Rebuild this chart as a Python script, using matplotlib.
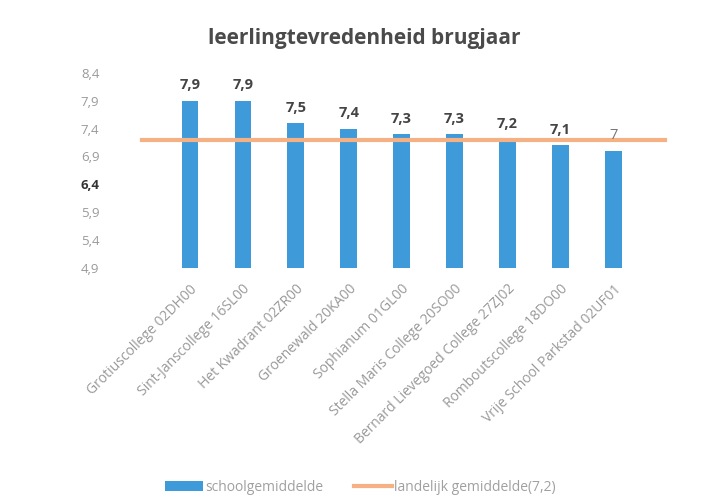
import matplotlib
matplotlib.use("Agg")
import matplotlib.pyplot as plt
from matplotlib.patches import Patch
from matplotlib.lines import Line2D

schools = ["Grotiuscollege 02DH00", "Sint-Janscollege 16SL00", "Het Kwadrant 02ZR00",
           "Groenewald 20KA00", "Sophianum 01GL00", "Stella Maris College 20SO00",
           "Bernard Lievegoed College 27ZJ02", "Romboutscollege 18DO00",
           "Vrije School Parkstad 02UF01"]
scores = [7.9, 7.9, 7.5, 7.4, 7.3, 7.3, 7.2, 7.1, 7.0]
score_labels = ["7,9", "7,9", "7,5", "7,4", "7,3", "7,3", "7,2", "7,1", "7"]
national = 7.2
yticks = [4.9, 5.4, 5.9, 6.4, 6.9, 7.4, 7.9, 8.4]
ytick_labels = ["4,9", "5,4", "5,9", "6,4", "6,9", "7,4", "7,9", "8,4"]

plt.rcParams['font.family'] = ['Open Sans', 'DejaVu Sans']

fig = plt.figure(figsize=(7.07, 4.96), dpi=100)
ax = fig.add_axes([0.231, 0.460, 0.674, 0.393])

blue = "#3f9ad9"
orange = "#f5b184"
x = list(range(len(schools)))
ax.bar(x, [s - yticks[0] for s in scores], bottom=yticks[0], width=0.31, color=blue, zorder=2)
ax.axhline(national, xmin=-0.045, xmax=1.052, color=orange, lw=3, clip_on=False, zorder=3)

for i, (s, lab) in enumerate(zip(scores, score_labels)):
    last = i == len(scores) - 1
    ax.annotate(lab, (i, s), xytext=(0, 6), textcoords="offset points", ha="center",
                va="bottom", fontsize=10.5, fontweight="normal" if last else "bold",
                color="#777777" if last else "#444444")

ax.set_xlim(-0.5, len(schools) - 0.5)
ax.set_ylim(yticks[0], yticks[-1])
ax.set_yticks(yticks)
ax.set_yticklabels(ytick_labels)
for t in ax.get_yticklabels():
    if t.get_text() == "6,4":
        t.set_color("#333333"); t.set_fontweight("bold")
    else:
        t.set_color("#9a9a9a")
ax.tick_params(axis="y", length=0, pad=46, labelsize=9.5)
ax.set_xticks(x)
ax.set_xticklabels(schools, rotation=45, ha="right", rotation_mode="anchor",
                   fontsize=10, color="#999999")
ax.tick_params(axis="x", length=0, pad=10)
for sp in ax.spines.values():
    sp.set_visible(False)

fig.text(0.515, 0.923, "leerlingtevredenheid brugjaar", ha="center", va="center",
         fontsize=15, fontweight="bold", color="#4a4a4a")

handles = [Patch(facecolor=blue, edgecolor="none"), Line2D([], [], color=orange, lw=3)]
fig.legend(handles, ["schoolgemiddelde", "landelijk gemiddelde(7,2)"], loc="center",
           bbox_to_anchor=(0.51, 0.018), ncol=2, frameon=False, fontsize=10,
           labelcolor="#a0a0a0", handlelength=2.7, handletextpad=0.2, columnspacing=2.2)

fig.savefig("out.png", dpi=100)
